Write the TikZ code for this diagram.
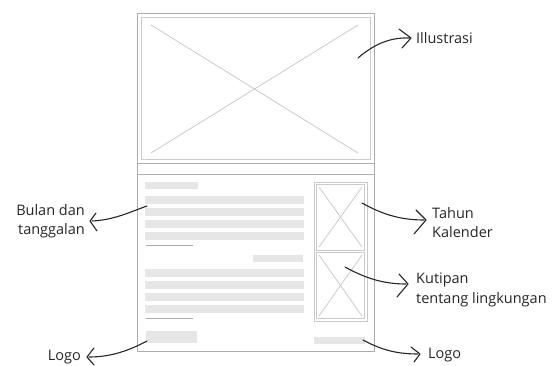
\documentclass[tikz,border=0pt]{standalone}
\usepackage{fontspec}
\setmainfont{Open Sans}
\definecolor{pageline}{HTML}{ABABAB}
\definecolor{frameline}{HTML}{CACACA}
\definecolor{barfill}{HTML}{E6E6E6}
\definecolor{txt}{HTML}{262626}
\definecolor{ink}{HTML}{262626}
\tikzset{
  page/.style={draw=pageline, line width=0.9pt},
  frame/.style={draw=frameline, line width=1pt},
  cross/.style={draw=frameline, line width=0.8pt},
  bar/.style={fill=barfill, draw=none},
  sigline/.style={draw=pageline, line width=0.8pt},
  lbl/.style={text=txt, font=\fontsize{14.5}{19.5}\selectfont, inner sep=0pt, align=left},
  pointer/.style={draw=ink, line width=1.1pt, line cap=round, line join=round},
}
\begin{document}
\begin{tikzpicture}[x=1pt,y=-1pt]
\useasboundingbox (0,0) rectangle (555,365);
% page
\draw[page] (137,13) rectangle (374,351);
\draw[page] (137,163) -- (374,163);
\draw[page] (137,174) -- (374,174);
% top illustration
\draw[frame] (141,17) rectangle (370,159);
\draw[cross] (151,25) -- (358,153);
\draw[cross] (151,153) -- (358,25);
% text bars
\fill[bar] (145,182) rectangle (198,189);
\foreach \y in {196,208,220,232} {\fill[bar] (145,\y) rectangle (304,\y+8);}
\draw[sigline] (146,245) -- (193,245);
\fill[bar] (253,255) rectangle (303,262);
\foreach \y in {269,281,293,305} {\fill[bar] (145,\y) rectangle (304,\y+8);}
\draw[sigline] (146,318) -- (193,318);
\fill[bar] (146,331) rectangle (197,343);
\fill[bar] (314,337) rectangle (365,344);
% right frame
\draw[frame] (314,182) rectangle (367,321);
\draw[frame] (316.5,184.5) rectangle (364.5,250);
\draw[frame] (316.5,252) rectangle (364.5,318.5);
\draw[cross] (319,187) -- (362,247);
\draw[cross] (319,247) -- (362,187);
\draw[cross] (319,255) -- (362,316);
\draw[cross] (319,316) -- (362,255);
% labels
\node[lbl, anchor=west] (ill) at (416,38) {Illustrasi};
\node[lbl, anchor=north west] (thn) at (432,207) {Tahun\\Kalender};
\node[lbl, anchor=north west] (kut) at (416,273) {Kutipan\\tentang lingkungan};
\node[lbl, anchor=west] (logor) at (428,355) {Logo};
\node[lbl, anchor=north east, align=right] (bln) at (85,204) {Bulan dan\\tanggalan};
\node[lbl, anchor=east] (logol) at (81,357) {Logo};
% pointer starts and tips
\coordinate (sIll) at (358,58);  \coordinate (tIll) at (410,38);
\coordinate (sThn) at (362,203); \coordinate (tThn) at (424,220);
\coordinate (sKut) at (345,267); \coordinate (tKut) at (406,284);
\coordinate (sLr) at (363,340);  \coordinate (tLr) at (418,354);
\coordinate (sBln) at (147,206); \coordinate (tBln) at (92,221);
\coordinate (sLl) at (147,341);  \coordinate (tLl) at (89,357);
% curves
\draw[pointer] (sIll) .. controls (372,46) and (388,37) .. (tIll);
\draw[pointer] (sThn) .. controls (380,213) and (398,220) .. (tThn);
\draw[pointer] (sKut) .. controls (365,278) and (383,284) .. (tKut);
\draw[pointer] (sLr) .. controls (378,348) and (393,354) .. (tLr);
\draw[pointer] (sBln) .. controls (130,212) and (114,220) .. (tBln);
\draw[pointer] (sLl) .. controls (130,350) and (112,357) .. (tLl);
% chevrons
\draw[pointer] ([shift={(-11,-9)}]tIll) -- ([xshift=1pt]tIll) -- ([shift={(-8,10)}]tIll);
\draw[pointer] ([shift={(-8,-10)}]tThn) -- ([xshift=2pt]tThn) -- ([shift={(-10,14)}]tThn);
\draw[pointer] ([shift={(-7,-10)}]tKut) -- ([xshift=2pt]tKut) -- ([shift={(-9,13)}]tKut);
\draw[pointer] ([shift={(-7,-7)}]tLr) -- ([xshift=2pt]tLr) -- ([shift={(-4,8)}]tLr);
\draw[pointer] ([shift={(4,-8)}]tBln) -- ([xshift=-2pt]tBln) -- ([shift={(5,10)}]tBln);
\draw[pointer] ([shift={(5,-9)}]tLl) -- ([xshift=-2pt]tLl) -- ([shift={(5,8)}]tLl);
\end{tikzpicture}
\end{document}
